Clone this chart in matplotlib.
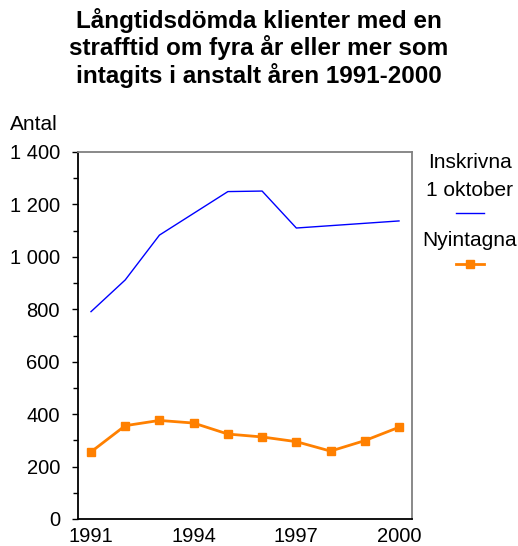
import matplotlib
matplotlib.use("Agg")
import matplotlib.pyplot as plt
from matplotlib.ticker import MultipleLocator, FuncFormatter

plt.rcParams['font.family'] = ['Liberation Sans', 'DejaVu Sans']

years = [1991, 1992, 1993, 1994, 1995, 1996, 1997, 1998, 1999, 2000]
inskrivna = [791, 912, 1083, 1166, 1249, 1251, 1110, 1119, 1128, 1137]
nyintagna = [256, 356, 376, 366, 324, 313, 295, 259, 299, 350]
xtick_years = [1991, 1994, 1997, 2000]
title = "Långtidsdömda klienter med en\nstrafftid om fyra år eller mer som\nintagits i anstalt åren 1991-2000"

fig = plt.figure(figsize=(5.18, 5.46), dpi=100)
ax = fig.add_axes([78/518, 1-519/546, (412-78)/518, (519-152)/546])

blue, = ax.plot(years, inskrivna, color='#0000ff', lw=1.0)
orange, = ax.plot(years, nyintagna, color='#ff8000', lw=2.0, marker='s', ms=5.5)

ax.set_xlim(1990.62, 2000.38)
ax.set_ylim(0, 1400)
ax.set_xticks(xtick_years)
ax.set_xticklabels([str(y) for y in xtick_years])
ax.yaxis.set_major_locator(MultipleLocator(200))
ax.yaxis.set_minor_locator(MultipleLocator(100))
ax.yaxis.set_major_formatter(FuncFormatter(lambda v, p: f"{int(v):,}".replace(",", " ")))
ax.tick_params(axis='y', which='major', length=4.5, width=1.0, labelsize=14.5, pad=8.5)
ax.tick_params(axis='y', which='minor', length=3.5, width=1.0)
ax.tick_params(axis='x', length=0, labelsize=14.5, pad=5.5)

for s in ['left', 'bottom']:
    ax.spines[s].set_color('black')
    ax.spines[s].set_linewidth(1.3)
for s in ['top', 'right']:
    ax.spines[s].set_color('#808080')
    ax.spines[s].set_linewidth(1.3)

fig.text(0.5, 1-48/546, title, ha='center', va='center', fontsize=17.5,
         fontweight='bold', linespacing=1.12)
fig.text(10/518, 1-124/546, "Antal", ha='left', va='center', fontsize=15)

# legend
fig.text(470/518, 1-163/546, "Inskrivna", ha='center', va='center', fontsize=15)
fig.text(470/518, 1-190/546, "1 oktober", ha='center', va='center', fontsize=15)
fig.text(470/518, 1-240/546, "Nyintagna", ha='center', va='center', fontsize=15)
fig.add_artist(plt.Line2D([456/518, 484/518], [1-213/546, 1-213/546], color='#0000ff', lw=1.0,
                          transform=fig.transFigure))
fig.add_artist(plt.Line2D([456/518, 484/518], [1-264/546, 1-264/546], color='#ff8000', lw=2.0,
                          transform=fig.transFigure))
fig.add_artist(plt.Line2D([470/518], [1-264/546], color='#ff8000', marker='s', ms=5.5, lw=0,
                          transform=fig.transFigure))

fig.savefig("out.png", dpi=100)
